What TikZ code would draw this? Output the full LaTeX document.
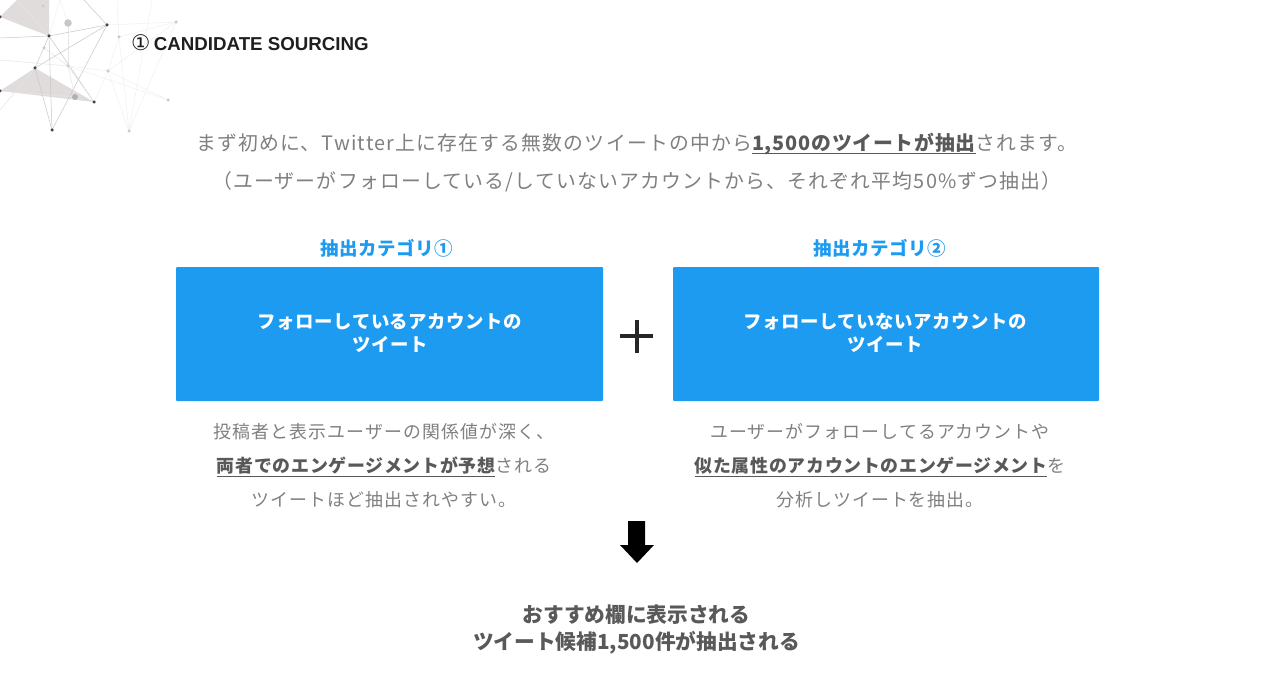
\documentclass[tikz,border=0pt]{standalone}
\usepackage{fontspec}
\setmainfont{Noto Sans CJK JP}
\newfontfamily\latinhead{Liberation Sans}
\newfontfamily\dejavu{DejaVu Sans}
\newfontfamily\jpw{Noto Sans CJK JP}[LetterSpace=6]
\newfontfamily\jpt{Noto Sans CJK JP}[LetterSpace=3]
\definecolor{twblue}{HTML}{1D9BF1}
\definecolor{bodygray}{HTML}{808080}
\definecolor{stronggray}{HTML}{595959}
\definecolor{tri}{HTML}{E0DCDC}
\newsavebox{\ulbox}
\begin{document}
\begin{tikzpicture}[x=1pt,y=-1pt,
  net/.style={line width=0.5pt,draw=#1},
  dot/.style={circle,fill=#1,inner sep=0pt,minimum size=3.5pt},
  bluebox/.style={fill=twblue,rounded corners=1pt,draw=none,text=white,font=\jpt\bfseries\fontsize{18.4}{23}\selectfont,align=center},
  cat/.style={text=twblue,font=\jpt\bfseries\fontsize{18.5}{22}\selectfont,inner sep=0pt,anchor=center},
  body/.style={text=bodygray,font=\jpw\fontsize{17.9}{34}\selectfont,align=center,inner sep=0pt},
  lead/.style={text=bodygray,font=\jpw\fontsize{19.85}{38}\selectfont,align=center,inner sep=0pt},
  result/.style={text=stronggray,font=\bfseries\fontsize{20.7}{27}\selectfont,align=center,inner sep=0pt}]
\newcommand{\ul}[1]{\sbox{\ulbox}{\textcolor{stronggray}{\addfontfeature{LetterSpace=4}\bfseries #1}}\rlap{\raisebox{-4pt}{\textcolor{stronggray}{\rule{\wd\ulbox}{1.2pt}}}}\usebox{\ulbox}}
\useasboundingbox (0,0) rectangle (1280,690);
\fill[white] (0,0) rectangle (1280,690);
% network
\coordinate (A) at (49,36); \coordinate (B) at (107,25); \coordinate (C) at (176,22);
\coordinate (D) at (35,68); \coordinate (E) at (0,91); \coordinate (F) at (94,102);
\coordinate (G) at (52,130); \coordinate (H) at (0,17); \coordinate (I) at (119,37);
\coordinate (J) at (108,71); \coordinate (K) at (168,100); \coordinate (L) at (129,131);
\coordinate (M) at (68,23); \coordinate (N) at (75,97); \coordinate (O) at (68,66);
\coordinate (P) at (43,6); \coordinate (Q) at (44,48);
\coordinate (T1) at (17,0); \coordinate (T2) at (49,0);
\coordinate (W1) at (0,38); \coordinate (W2) at (0,60); \coordinate (W3) at (0,110);
\coordinate (W4) at (60,0); \coordinate (W5) at (84,0); \coordinate (W6) at (117,0); \coordinate (W7) at (152,0);
\fill[tri] (H) -- (T1) -- (T2) -- (A) -- cycle;
\fill[tri] (E) -- (D) -- (F) -- cycle;
\foreach \a/\b in {A/B,A/F,A/G,A/D,D/B,D/G,B/G,W1/A,W5/B}
  \draw[net=black!22] (\a) -- (\b);
\foreach \a/\b in {T1/A,W2/O,W3/D,M/O,O/F,O/N,Q/D,Q/O,E/N}
  \draw[net=black!10] (\a) -- (\b);
\foreach \a/\b in {B/C,C/I,I/J,C/J,J/K,J/L,K/O,I/L,C/L,O/J,F/J,W4/M,W6/I,W7/L,W4/A}
  \draw[net=black!6] (\a) -- (\b);
\foreach \p in {A,B,D,E,F,G,H} \node[dot=black!72] at (\p) {};
\foreach \p in {C,I,J,K,L,O,P,Q} \node[dot=black!20] at (\p) {};
\node[dot=black!22,minimum size=7.5pt] at (M) {};
\node[dot=black!30,minimum size=6pt] at (N) {};
% heading
\node[anchor=west,inner sep=0pt,text=black!88] (head) at (131,43)
  {{\dejavu\fontsize{21.5}{20}\selectfont ①}\hspace{3.5pt}{\latinhead\bfseries\fontsize{18.7}{20}\selectfont CANDIDATE SOURCING}};
% lead text
\node[lead] (lead1) at (637,144) {まず初めに、Twitter上に存在する無数のツイートの中から\ul{1,500のツイートが抽出}されます。};
\node[lead] (lead2) at (637,182) {（ユーザーがフォローしている/していないアカウントから、それぞれ平均50\%ずつ抽出）};
% categories
\node[cat] (cat1) at (387,248) {抽出カテゴリ①};
\node[cat] (cat2) at (880,248) {抽出カテゴリ②};
% boxes
\path[bluebox] (176,267) rectangle (603,401);
\node[bluebox,fill=none] (box1) at (390,332.5) {フォローしているアカウントの\\ツイート};
\path[bluebox] (673,267) rectangle (1099,401);
\node[bluebox,fill=none] (box2) at (885,332.5) {フォローしていないアカウントの\\ツイート};
% plus
\fill[black!85] (634.5,320) rectangle (639,353);
\fill[black!85] (620,334) rectangle (653,338);
% descriptions
\node[body] (d1) at (384,466) {投稿者と表示ユーザーの関係値が深く、\\\ul{両者でのエンゲージメントが予想}される\\ツイートほど抽出されやすい。};
\node[body] (d2) at (880,466) {ユーザーがフォローしてるアカウントや\\\ul{似た属性のアカウントのエンゲージメント}を\\分析しツイートを抽出。};
% arrow
\fill[black] (628,521) -- (645,521) -- (645,545) -- (654,545) -- (637,563) -- (620,545) -- (628,545) -- cycle;
% result
\node[result] (res) at (636.5,629.5) {おすすめ欄に表示される\\ツイート候補1,500件が抽出される};
\end{tikzpicture}
\end{document}
